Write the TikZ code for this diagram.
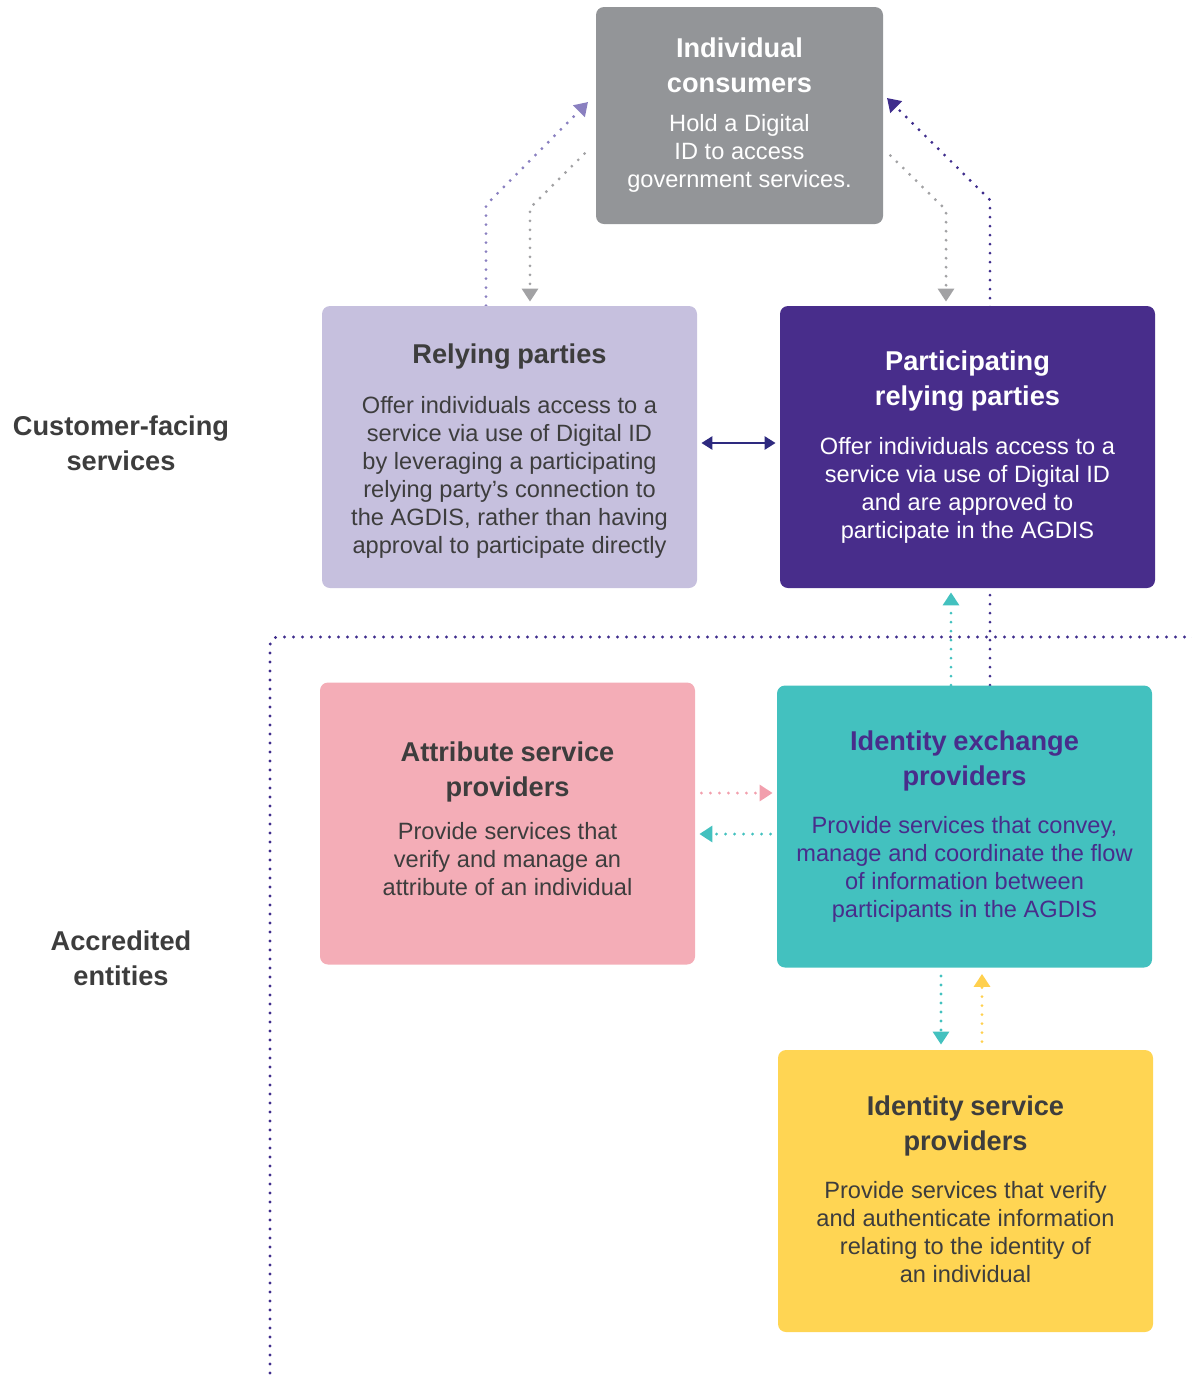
\documentclass[tikz,border=0pt]{standalone}
\usepackage{fontspec}
\setmainfont{Liberation Sans}
\usetikzlibrary{calc,arrows.meta,backgrounds,positioning}
\definecolor{consgray}{HTML}{939598}
\definecolor{lavbox}{HTML}{C6C0DE}
\definecolor{prpbox}{HTML}{482D8B}
\definecolor{pinkbox}{HTML}{F4ADB7}
\definecolor{tealbox}{HTML}{43C1BF}
\definecolor{yelbox}{HTML}{FFD553}
\definecolor{darktext}{HTML}{3D3D3D}
\definecolor{navdot}{HTML}{3F2D8C}
\definecolor{lavdot}{HTML}{8A80C0}
\definecolor{graydot}{HTML}{A2A2A4}
\definecolor{pinkdot}{HTML}{F29FAD}
\definecolor{yeldot}{HTML}{FFD04E}
\definecolor{navarrow}{HTML}{2E2A7F}
\newcommand\boxtitle{\fontsize{13.6}{17.5}\selectfont\bfseries}
\newcommand\boxbody{\fontsize{11.8}{14}\selectfont}
\newcommand\cardtext[3]{{\boxtitle #2\par}\vspace{#1}{\boxbody #3\par}}
\tikzset{>={Triangle[length=6.5pt,width=8pt]},
  card/.style={rounded corners=4pt,minimum width=187.5pt,minimum height=141pt,
    text width=184pt,align=center,inner sep=0pt},
  dots/.style={line width=1.6pt,line cap=round,dash pattern=on 0pt off 4.5pt},
  side/.style={align=center,text=darktext,font=\boxtitle}}

\begin{document}
\begin{tikzpicture}[x=0.5pt,y=-0.5pt]
\useasboundingbox (0,0) rectangle (1192,1378);
\clip (0,0) rectangle (1192,1378);

\node[card,fill=consgray,text=white,minimum width=143.5pt,minimum height=108.5pt,text width=140pt]
  (cons) at (739.5,115.5)
  {\cardtext{5.5pt}{Individual\\consumers}{Hold a Digital\\ID to access\\government services.}};
\node[card,fill=lavbox,text=darktext] (rp) at (509.5,447)
  {\cardtext{11pt}{Relying parties}{Offer individuals access to a\\service via use of Digital ID\\by leveraging a participating\\relying party’s connection to\\the AGDIS, rather than having\\approval to participate directly}\vspace{-4.5pt}};
\node[card,fill=prpbox,text=white] (prp) at (967.5,447)
  {\cardtext{10.5pt}{Participating\\relying parties}{Offer individuals access to a\\service via use of Digital ID\\and are approved to\\participate in the AGDIS}};
\node[card,fill=pinkbox,text=darktext] (asp) at (507.5,823.5)
  {\cardtext{7.5pt}{Attribute service\\providers}{Provide services that\\verify and manage an\\attribute of an individual}\vspace{5pt}};
\node[card,fill=tealbox,text=prpbox] (idx) at (964.5,826.5)
  {\cardtext{10pt}{Identity exchange\\providers}{Provide services that convey,\\manage and coordinate the flow\\of information between\\participants in the AGDIS}};
\node[card,fill=yelbox,text=darktext] (isp) at (965.5,1191)
  {\cardtext{10pt}{Identity service\\providers}{Provide services that verify\\and authenticate information\\relating to the identity of\\an individual}\vspace{2pt}};

\node[side] (cfs) at (121,443) {Customer-facing\\services};
\node[side] (acc) at (121,958) {Accredited\\entities};

\begin{scope}[on background layer]
\draw[dots,navdot,rounded corners=4pt] (270,1400) -- (270,637) -- (1199,637) -- (1199,1400);
\draw[dots,lavdot,->] (rp.north -| 486,0) -- (486,205) -- (588,102);
\draw[dots,graydot,->,shorten >=2pt] ($(cons.west)+(-11,38)$) -- (530,208) -- (rp.north -| 530,0);
\draw[dots,navdot,->] (idx.north -| 990,0) -- (990,200) -- (887,98);
\draw[dots,graydot,->,shorten >=2pt] ($(cons.east)+(7,40)$) -- (946,210) -- (prp.north -| 946,0);
\draw[dots,tealbox,->,shorten >=2pt] (idx.north -| 951,0) -- (prp.south -| 951,0);
\draw[dots,pinkdot,->,shorten <=3pt,shorten >=2pt] (asp.east |- 0,793) -- (idx.west |- 0,793);
\draw[dots,tealbox,->,shorten <=3pt,shorten >=2pt] (idx.west |- 0,834) -- (asp.east |- 0,834);
\draw[dots,tealbox,->,shorten <=4pt,shorten >=2.5pt] (idx.south -| 941,0) -- (isp.north -| 941,0);
\draw[dots,yeldot,->,shorten <=4pt,shorten >=3pt] (isp.north -| 982,0) -- (idx.south -| 982,0);
\draw[navarrow,line width=1.3pt,{Triangle[length=5.5pt,width=6.5pt]}-{Triangle[length=5.5pt,width=6.5pt]},
  shorten <=2pt,shorten >=2pt] (rp.east |- 0,443) -- (prp.west |- 0,443);
\end{scope}
\end{tikzpicture}
\end{document}
